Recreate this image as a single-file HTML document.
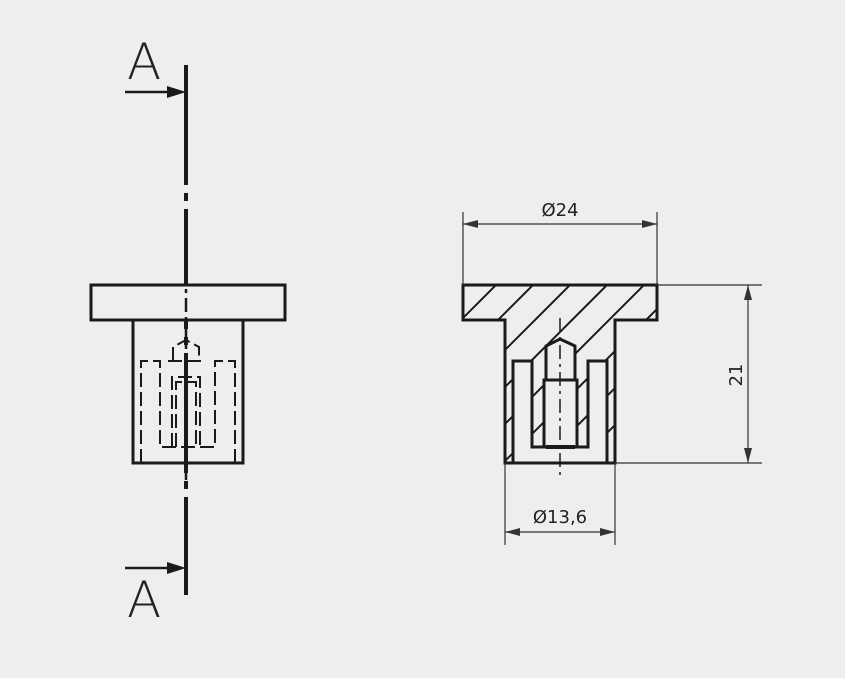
<!DOCTYPE html>
<html><head><meta charset="utf-8"><style>
html,body{margin:0;padding:0;background:#eceef0;}
svg{display:block}
text{font-family:"DejaVu Sans","Liberation Sans",sans-serif;fill:#222}
</style></head><body>
<svg width="845" height="678" viewBox="0 0 845 678" xmlns="http://www.w3.org/2000/svg">
<defs>
<clipPath id="sec">
<path d="M463,285 H657 V320 H615 V463 H505 V320 H463 Z"/>
</clipPath>
</defs>
<!-- LEFT VIEW -->
<g stroke="#1a1a1a" fill="none">
<line x1="186" y1="65" x2="186" y2="595" stroke-width="4" stroke-dasharray="120,8,8,8"/>
<line x1="125" y1="92" x2="172" y2="92" stroke-width="2.5"/>
<polygon points="186,92 167,86 167,98" fill="#1a1a1a" stroke="none"/>
<line x1="125" y1="568" x2="172" y2="568" stroke-width="2.5"/>
<polygon points="186,568 167,562 167,574" fill="#1a1a1a" stroke="none"/>
<rect x="91" y="285" width="194" height="35" stroke-width="3" fill="#eceef0"/>
<path d="M133,320 V463 H243 V320" stroke-width="3"/>
<line x1="186" y1="270" x2="186" y2="480" stroke-width="2.5" stroke-dasharray="14,5,4,5"/>
<g stroke-width="2" stroke-dasharray="14,5">
<path d="M141,463 V361 H160 V447 H215 V361 H235 V463"/>
<path d="M172,447 V377 H200 V447"/>
<path d="M176,447 V382 H196 V447"/>
<path d="M173,361 V347 L186,340 L199,347 V361"/>
<line x1="168" y1="361" x2="204" y2="361"/>
</g>
</g>
<text x="127" y="79" font-size="50" font-family="Liberation Sans" style="font-weight:300">A</text>
<text x="127" y="617" font-size="50" font-family="Liberation Sans" style="font-weight:300">A</text>
<!-- RIGHT VIEW -->
<g clip-path="url(#sec)" stroke="#1a1a1a" stroke-width="2">
<line x1="431" y1="350" x2="531" y2="250"/>
<line x1="418" y1="400" x2="568" y2="250"/>
<line x1="405" y1="450" x2="605" y2="250"/>
<line x1="392" y1="500" x2="642" y2="250"/>
<line x1="429" y1="500" x2="679" y2="250"/>
<line x1="466" y1="500" x2="716" y2="250"/>
<line x1="503" y1="500" x2="753" y2="250"/>
<line x1="540" y1="500" x2="790" y2="250"/>
<line x1="577" y1="500" x2="827" y2="250"/>
</g>
<g stroke="#1a1a1a" stroke-width="3" fill="#eceef0">
<path d="M513,463 V361 H532 V447 H588 V361 H607 V463 Z"/>
<path d="M546,380 V346 L560,339 L575,346 V380 Z"/>
<path d="M544,447 V380 H577 V447 Z"/>
<path d="M463,285 H657 V320 H615 V463 H505 V320 H463 Z" fill="none"/>
</g>
<line x1="546" y1="447" x2="575" y2="447" stroke="#1a1a1a" stroke-width="4"/>
<line x1="560" y1="318" x2="560" y2="475" stroke="#1a1a1a" stroke-width="1.5" stroke-dasharray="14,5,3,5"/>
<!-- dimensions -->
<g stroke="#333" stroke-width="1.2" fill="#333">
<line x1="463" y1="212" x2="463" y2="285"/>
<line x1="657" y1="212" x2="657" y2="285"/>
<line x1="463" y1="224" x2="657" y2="224"/>
<polygon points="463,224 478,220 478,228" stroke="none"/>
<polygon points="657,224 642,220 642,228" stroke="none"/>
<line x1="657" y1="285" x2="762" y2="285"/>
<line x1="615" y1="463" x2="762" y2="463"/>
<line x1="748" y1="285" x2="748" y2="463"/>
<polygon points="748,285 744,300 752,300" stroke="none"/>
<polygon points="748,463 744,448 752,448" stroke="none"/>
<line x1="505" y1="463" x2="505" y2="545"/>
<line x1="615" y1="463" x2="615" y2="545"/>
<line x1="505" y1="532" x2="615" y2="532"/>
<polygon points="505,532 520,528 520,536" stroke="none"/>
<polygon points="615,532 600,528 600,536" stroke="none"/>
</g>
<text x="560" y="216" font-size="18" text-anchor="middle">Ø24</text>
<text x="560" y="523" font-size="18" text-anchor="middle">Ø13,6</text>
<text x="742" y="375" font-size="18" text-anchor="middle" transform="rotate(-90 742 375)">21</text>
</svg>
</body></html>
